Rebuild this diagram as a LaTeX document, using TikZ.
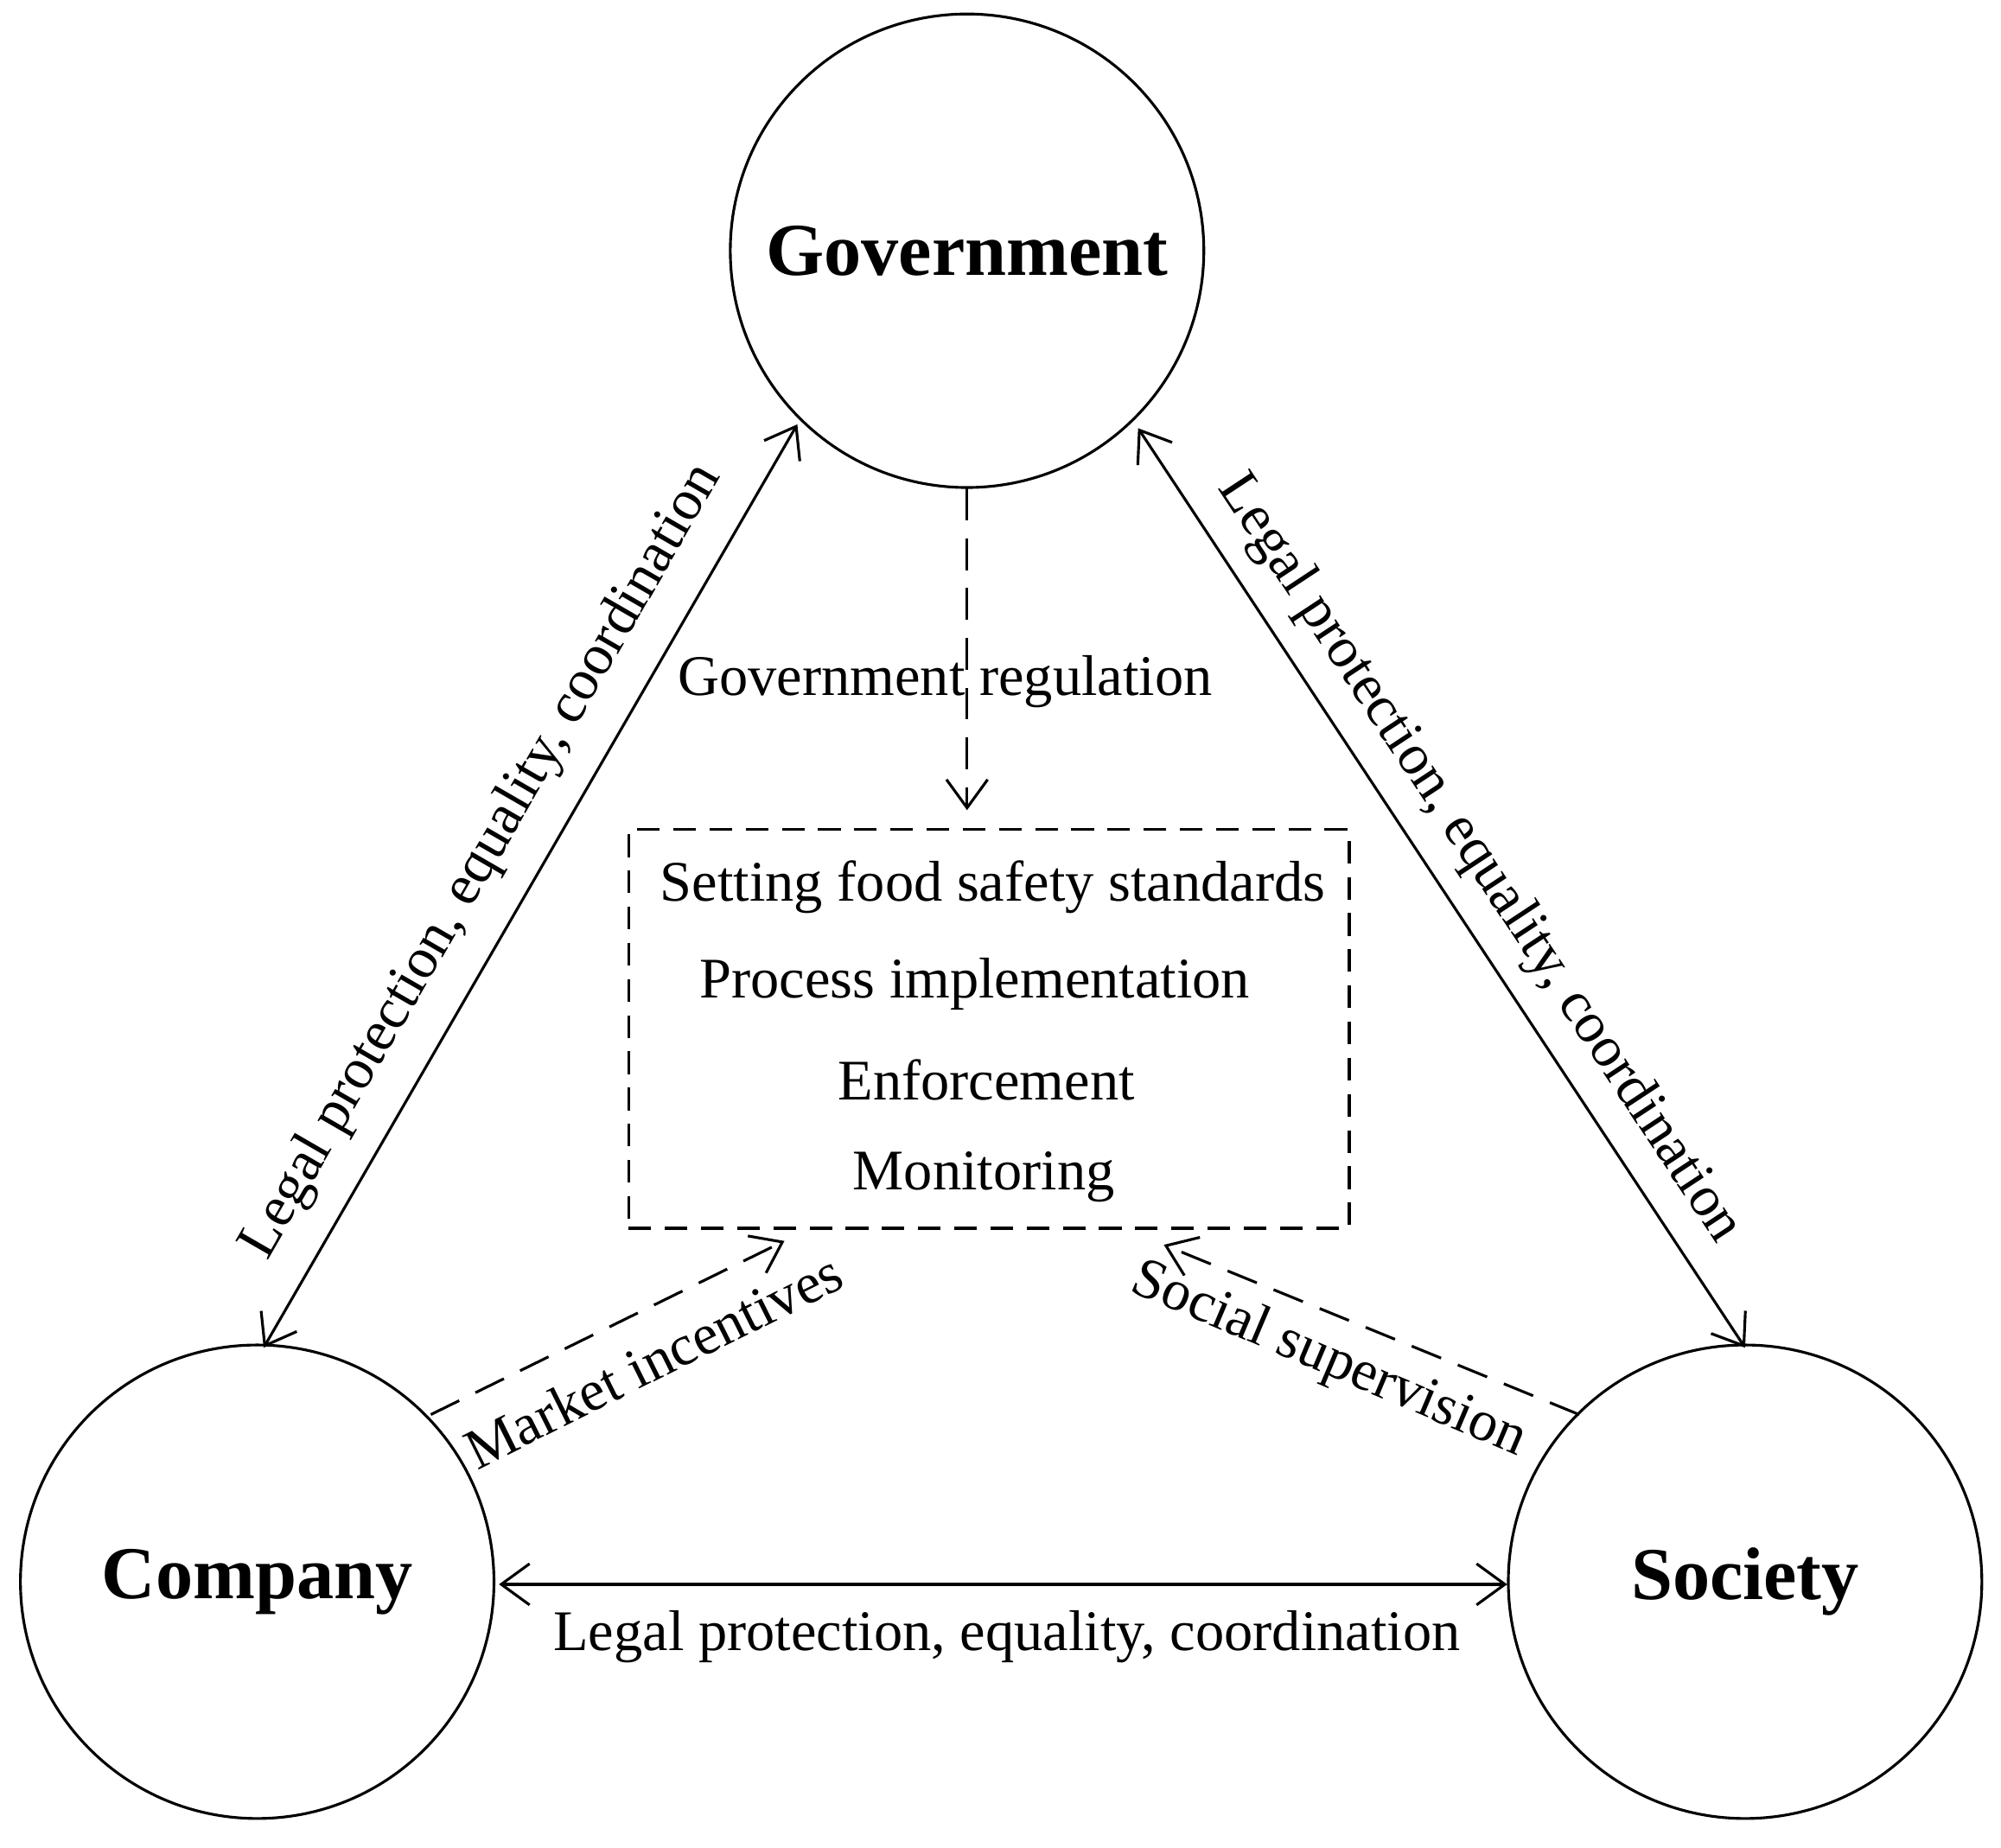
\documentclass[tikz,border=0pt]{standalone}
\usepackage{fontspec}
\setmainfont{Liberation Serif}
\usetikzlibrary{arrows.meta}
\begin{document}
\begin{tikzpicture}[x=0.01cm,y=-0.01cm,
  actor/.style={circle,draw,line width=0.6pt,minimum size=3.68cm,inner sep=0pt,font=\fontsize{16.5}{20}\selectfont\bfseries},
  lbl/.style={font=\fontsize{12.7}{15}\selectfont,inner sep=1pt},
  con/.style={line width=0.6pt,arrows={Straight Barb[length=2.2mm,width=3.2mm]-Straight Barb[length=2.2mm,width=3.2mm]}},
  dcon/.style={line width=0.6pt,dashed,dash pattern=on 7pt off 4pt,-{Straight Barb[length=2.2mm,width=3.2mm]}}]
\useasboundingbox (0,0) rectangle (1556,1437);
\node[actor] (gov) at (752,195) {Government};
\node[actor] (com) at (200,1230) {Company};
\node[actor] (soc) at (1357,1230) {Society};
\node[draw,dashed,dash pattern=on 5pt off 3pt,line width=0.6pt,minimum width=5.6cm,minimum height=3.1cm] (box) at (769,800) {};
\node[lbl] at (772,690) {Setting food safety standards};
\node[lbl] at (758,765) {Process implementation};
\node[lbl] at (767,840) {Enforcement};
\node[lbl] at (765,915) {Monitoring};
\coordinate (gtop) at (752,380);
\coordinate (gbot) at (752,630);
\draw[dcon] (gtop) -- (gbot);
\node[lbl] at (735,530) {Government regulation};
\coordinate (g1) at (620,330); \coordinate (c1) at (205,1048);
\draw[con] (c1) -- (g1);
\coordinate (g2) at (885,333); \coordinate (s1) at (1357,1048);
\draw[con] (g2) -- (s1);
\coordinate (c2) at (388,1232); \coordinate (s2) at (1172,1232);
\draw[con] (c2) -- (s2);
\coordinate (m1) at (335,1100); \coordinate (m2) at (610,965);
\draw[dcon] (m1) -- (m2);
\coordinate (ss1) at (1228,1100); \coordinate (ss2) at (905,968);
\draw[dcon] (ss1) -- (ss2);
\node[lbl,rotate=60] at (375,670) {Legal protection, equality, coordination};
\node[lbl,rotate=-56.6] at (1150,668) {Legal protection, equality, coordination};
\node[lbl] at (783,1273) {Legal protection, equality, coordination};
\node[lbl,rotate=26.5] at (508,1058) {Market incentives};
\node[lbl,rotate=-23] at (1033,1058) {Social supervision};
\end{tikzpicture}
\end{document}
